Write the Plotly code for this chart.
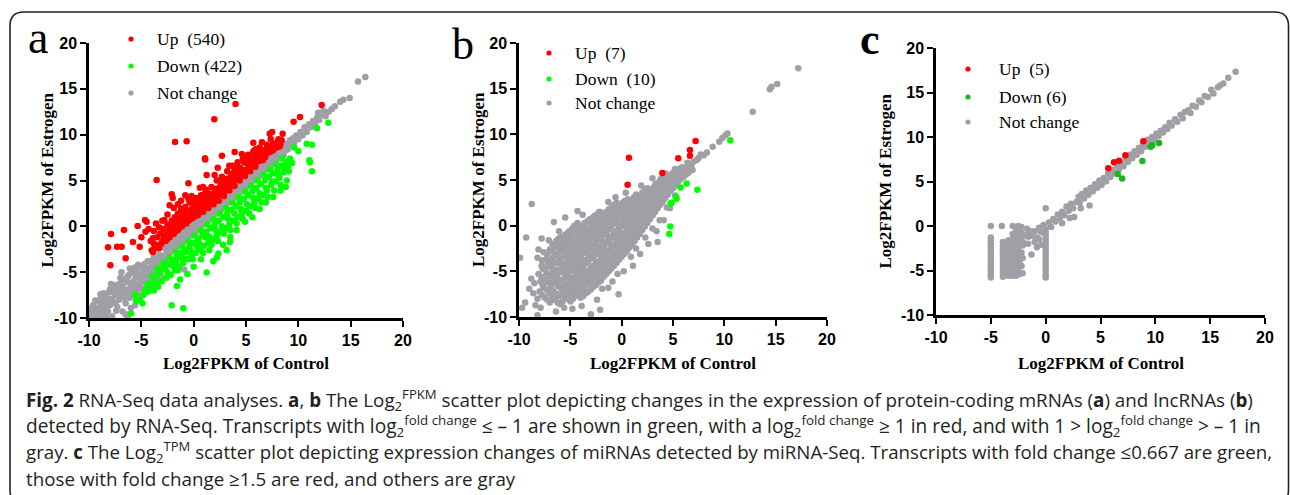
import plotly.graph_objects as go

# ---------------- data ----------------
TICK_VALS = [-10, -5, 0, 5, 10, 15, 20]
TICK_TEXT = ["-10", "-5", "0", "5", "10", "15", "20"]

A_UP = [
    (4.0, 13.35), (1.97, 11.67), (-1.78, 9.2), (-0.67, 9.27), (-3.54, 5.05), (1.08, 7.42), (3.92, 8.11),
    (5.7, 9.13), (6.53, 9.16), (7.26, 10.1), (7.36, 9.53), (9.55, 11.42), (10.16, 11.93), (12.23, 13.24),
    (-7.9, -0.84), (-8.18, -2.29), (-7.32, -2.22), (-6.88, -2.22), (-7.96, -4.25), (-6.66, -0.4), (-5.35, 0.04),
    (-4.65, 0.69), (-4.5, 0.5), (-5.16, -2.22), (-6.5, -3.49), (-5.8, -1.7), (-5.0, -1.2), (-4.6, -0.6),
    (-4.3, -0.3), (-4.1, -1.6), (-3.8, -0.5), (-3.6, 0.3), (-3.3, -0.1), (-3.0, 0.6), (-2.5, 1.3), (-2.3, 2.3),
    (-1.9, 2.0), (-2.0, 3.1), (-1.2, 2.8), (-0.8, 3.4), (-0.2, 3.3), (0.6, 4.2), (-0.5, 4.7), (1.24, 5.6),
    (-2.1, 3.5), (1.1, 7.3), (2.7, 7.7), (2.3, 6.4), (8.4, 9.4), (8.5, 10.1), (7.5, 10.3),
    (-4.0, -2.6), (-3.8, -1.9), (-3.6, -2.4), (-3.5, -1.2), (-3.3, -2.0), (-3.2, -0.8), (-3.0, -1.6), (-2.9, -0.3),
    (-2.8, -1.3), (-2.6, -0.9), (-2.5, 0.2), (-2.4, -1.0), (-2.2, -0.4), (-2.1, 0.6), (-2.0, -0.8), (-1.9, 0.1),
    (-1.8, 1.0), (-1.7, -0.5), (-1.6, 0.4), (-1.5, 1.4), (-1.4, -0.2), (-1.3, 0.8), (-1.2, 1.9), (-1.1, 0.2),
    (-1.0, 1.2), (-0.9, 0.5), (-0.8, 2.1), (-0.7, 0.9), (-0.6, 1.6), (-0.5, 0.6), (-0.4, 2.6), (-0.3, 1.2),
    (-0.2, 1.9), (-0.1, 0.9), (0.0, 2.4), (0.1, 1.4), (0.2, 3.1), (0.3, 1.8), (0.4, 1.2), (0.5, 2.6), (0.6, 1.7),
    (0.7, 3.4), (0.8, 2.1), (0.9, 1.6), (1.0, 2.9), (1.1, 2.2), (1.2, 4.0), (1.3, 2.6), (1.4, 2.0), (1.5, 3.3),
    (1.6, 2.5), (1.7, 4.3), (1.8, 2.9), (1.9, 2.4), (2.0, 3.7), (2.1, 3.0), (2.2, 5.0), (2.3, 3.4), (2.4, 2.8),
    (2.5, 4.3), (2.6, 3.6), (2.7, 5.4), (2.8, 3.9), (2.9, 3.3), (3.0, 4.8), (3.1, 4.0), (3.2, 6.0), (3.3, 4.4),
    (3.4, 3.9), (3.5, 5.3), (3.6, 4.6), (3.7, 6.6), (3.8, 5.0), (3.9, 4.4), (4.0, 5.9), (4.1, 5.1), (4.2, 7.0),
    (4.3, 5.5), (4.4, 5.0), (4.5, 6.3), (4.6, 5.6), (4.7, 7.4), (4.8, 6.1), (4.9, 5.5), (5.0, 6.9), (5.1, 6.2),
    (5.2, 7.8), (5.3, 6.6), (5.4, 6.0), (5.5, 7.3), (5.6, 6.7), (5.7, 8.2), (5.8, 7.0), (5.9, 6.5), (6.0, 7.8),
    (6.2, 7.1), (6.3, 8.6), (6.4, 7.5), (6.6, 7.2), (6.7, 8.3), (6.9, 7.8), (7.0, 8.9), (7.2, 8.1), (7.4, 8.6),
    (7.6, 8.3), (7.8, 8.9), (8.0, 9.2), (8.2, 8.7),
    (-3.9, -2.8), (-3.4, -2.3), (-2.7, -1.6), (-2.3, -1.2), (-1.9, -0.8), (-1.5, -0.4), (-1.1, 0.0), (-0.7, 0.3),
    (-0.3, 0.8), (0.1, 1.1), (0.5, 1.5), (0.9, 1.9), (1.3, 2.3), (1.7, 2.7), (2.1, 3.1), (2.5, 3.5), (2.9, 3.9),
    (3.3, 4.3), (3.7, 4.7), (4.3, 5.4), (4.7, 5.8), (5.1, 6.2), (5.5, 6.6), (6.1, 7.2), (6.5, 7.6), (7.1, 8.2),
    (-3.7, -2.2), (-3.1, -1.9), (-2.9, -1.0), (-2.6, -1.5), (-2.3, -0.2), (-2.0, -0.1), (-1.8, -0.3), (-1.6, 0.9),
    (-1.3, 0.1), (-1.0, 0.4), (-0.9, 1.6), (-0.6, 0.9), (-0.4, 1.4), (-0.1, 1.6), (0.1, 2.3), (0.3, 2.6),
    (0.4, 1.8), (0.6, 2.2), (0.8, 3.0), (1.0, 2.3), (1.2, 3.0), (1.4, 3.6), (1.6, 3.1), (1.8, 3.5), (2.0, 2.9),
    (2.2, 4.1), (2.4, 3.6), (2.6, 4.7), (2.8, 4.4), (3.0, 3.9), (3.2, 5.2), (3.4, 4.8), (3.6, 5.7), (3.8, 4.9),
    (4.0, 6.6), (4.2, 5.8), (4.4, 6.4), (4.6, 5.9), (4.8, 7.0), (5.0, 6.0), (5.2, 6.8), (5.4, 7.4), (5.6, 7.1),
    (5.8, 7.7), (6.1, 8.1), (6.3, 7.3), (6.5, 8.0), (6.8, 7.5), (7.1, 8.6), (7.3, 8.1), (7.6, 9.0), (7.9, 8.6),
    (8.1, 9.5), (8.3, 9.0), (-2.8, 0.7), (-1.5, 2.4), (-0.5, 3.0), (0.9, 4.3), (2.0, 5.6), (3.4, 6.6), (4.6, 7.9),
    (5.9, 8.4), (-3.9, -1.3), (-3.3, -2.4), (-2.4, -0.6), (-1.1, 1.4), (0.2, 2.0), (1.5, 2.7), (2.7, 4.1),
    (3.9, 5.4), (5.3, 7.1), (6.6, 7.9), (-0.2, 2.7), (1.1, 3.6), (2.5, 5.0), (3.9, 6.1), (5.1, 7.6),
]

A_DOWN = [
    (-6.0, -9.5), (-5.5, -8.1), (-5.13, -8.0), (-4.9, -8.4), (-4.6, -6.8), (-4.33, -7.1), (-4.0, -6.1), (-3.8, -7.0),
    (-3.6, -5.5), (-3.4, -6.6), (-3.2, -5.0), (-3.06, -6.0), (-2.8, -4.6), (-2.6, -5.6), (-2.4, -4.1), (-2.2, -5.3),
    (-2.1, -8.6), (-2.0, -3.7), (-1.8, -4.8), (-1.6, -3.3), (-1.4, -4.4), (-1.2, -2.9), (-1.0, -4.0), (-0.99, -8.94),
    (-0.8, -2.6), (-0.6, -3.6), (-0.4, -2.2), (-0.2, -3.3), (0.0, -1.8), (0.2, -2.9), (0.4, -1.4), (0.6, -2.5),
    (0.8, -1.0), (1.0, -2.1), (1.2, -0.6), (1.24, -5.05), (1.4, -1.8), (1.6, -0.2), (1.8, -1.4), (1.88, -3.8),
    (2.0, 0.2), (2.2, -1.0), (2.36, -2.96), (2.4, 0.6), (2.6, -0.6), (2.8, 1.0), (3.0, -0.2), (3.15, -2.58),
    (3.2, 1.4), (3.4, 0.2), (3.47, -1.7), (3.6, 1.8), (3.8, 0.6), (4.0, 2.2), (4.2, 1.0), (4.4, 2.6), (4.6, 1.3),
    (4.8, 3.0), (5.0, 1.7), (5.2, 3.4), (5.4, 2.2), (5.6, 3.8), (5.8, 2.6), (6.0, 4.2), (6.2, 3.0), (6.4, 4.6),
    (6.6, 3.4), (6.8, 5.0), (7.0, 3.9), (7.2, 5.4), (7.4, 4.5), (7.6, 5.8), (7.8, 4.9), (8.0, 6.2), (8.2, 5.3),
    (8.4, 6.6), (8.6, 5.9), (8.8, 7.0), (9.0, 6.4), (9.2, 7.4), (8.9, 5.0), (9.4, 6.9), (9.6, 8.6), (10.8, 9.0),
    (11.3, 8.9), (11.05, 7.2), (11.1, 7.0), (11.3, 6.0), (11.78, 10.69), (12.86, 11.3), (10.0, 8.2),
    (-3.5, -4.6), (-2.9, -4.0), (-2.3, -3.4), (-1.7, -2.8), (-1.1, -2.2), (-0.5, -1.6), (0.1, -1.0), (0.7, -0.4),
    (1.3, 0.2), (1.9, 0.8), (2.5, 1.4), (3.1, 2.0), (3.7, 2.6), (4.3, 3.2), (4.9, 3.8), (5.5, 4.4), (6.1, 5.0),
    (6.7, 5.6), (7.3, 6.2), (7.9, 6.8), (8.5, 7.4),
    (2.2, -3.4), (1.5, -2.6), (0.7, -3.6), (0.0, -4.4), (-0.6, -5.2), (-1.3, -5.8), (-1.6, -6.5), (2.8, -2.0),
    (3.5, -1.2), (4.1, -0.4), (4.9, 0.5), (5.6, 1.0), (6.3, 1.9), (6.9, 2.6), (7.6, 3.2), (8.3, 3.9), (8.8, 4.3),
    (-4.4, -6.3), (-3.9, -5.4), (-3.3, -4.8), (-2.7, -4.4), (-2.5, -5.0), (-2.0, -4.3), (-1.7, -3.9), (-1.5, -4.8),
    (-1.2, -3.4), (-0.9, -3.5), (-0.7, -2.8), (-0.3, -2.7), (-0.1, -3.6), (0.3, -2.2), (0.5, -1.8), (0.9, -2.9),
    (1.1, -1.2), (1.5, -1.1), (1.7, -2.0), (2.1, -0.4), (2.3, -1.6), (2.7, 0.0), (2.9, -0.8), (3.3, 0.8),
    (3.5, -0.4), (3.9, 1.4), (4.1, 0.3), (4.5, 1.9), (4.7, 0.8), (5.1, 2.4), (5.3, 1.4), (5.7, 3.1), (5.9, 2.0),
    (6.3, 3.6), (6.5, 2.6), (6.9, 4.2), (7.1, 3.2), (7.5, 4.9), (7.7, 3.9), (8.1, 5.6), (8.3, 4.5), (8.7, 6.2),
    (9.1, 6.0), (-5.6, -7.5), (-4.8, -7.5), (-4.1, -6.9), (-3.6, -6.3),
]

A_NC = [
    (-10.0, -9.7), (-9.9, -9.0), (-9.7, -9.9), (-9.6, -8.6), (-9.5, -9.4), (-9.3, -8.9), (-9.2, -9.8), (-9.1, -8.2),
    (-9.0, -9.3), (-8.9, -8.7), (-8.8, -7.8), (-8.7, -9.6), (-8.6, -8.4), (-8.5, -9.0), (-8.4, -7.6), (-8.3, -8.1),
    (-8.2, -9.3), (-8.1, -7.2), (-8.0, -8.6), (-7.9, -7.9), (-7.8, -9.8), (-7.7, -6.9), (-7.6, -8.3), (-7.5, -7.5),
    (-7.4, -6.4), (-7.3, -8.8), (-7.2, -7.1), (-7.1, -8.0), (-7.0, -6.2), (-6.9, -7.6), (-6.8, -9.3), (-6.7, -5.8),
    (-6.6, -6.9), (-6.5, -8.4), (-6.4, -7.3), (-6.3, -6.1), (-6.2, -5.3), (-6.1, -7.8), (-6.0, -6.6), (-5.9, -5.0),
    (-5.8, -7.2), (-5.7, -5.9), (-5.6, -8.6), (-5.5, -6.4), (-5.4, -4.9), (-5.3, -7.5), (-5.2, -5.6), (-5.1, -4.4),
    (-5.0, -6.8), (-4.9, -5.2), (-4.8, -6.1), (-4.7, -4.1), (-4.6, -7.2), (-4.5, -5.5), (-4.4, -4.6), (-4.3, -6.4),
    (-4.2, -3.8), (-4.1, -5.0), (-4.0, -5.8), (-3.9, -4.3), (-3.8, -3.4), (-3.7, -6.0), (-3.6, -4.8), (-3.5, -3.9),
    (-3.4, -5.3), (-3.3, -3.1), (-3.2, -4.4), (-3.1, -5.5), (-3.0, -3.6),
    (-9.8, -9.4), (-9.4, -8.1), (-9.0, -8.0), (-8.8, -9.9), (-8.6, -7.3), (-8.2, -8.5), (-8.0, -6.9), (-7.8, -8.0),
    (-7.6, -7.0), (-7.4, -9.2), (-7.2, -6.5), (-7.0, -7.4), (-6.8, -6.5), (-6.6, -7.8), (-6.4, -5.6), (-6.2, -6.9),
    (-6.0, -8.9), (-5.8, -6.3), (-5.6, -5.2), (-5.4, -6.9), (-5.2, -8.1), (-5.0, -5.7), (-4.8, -4.6), (-4.6, -6.0),
    (-4.4, -5.3), (-4.2, -6.9), (-4.0, -4.4), (-3.8, -5.2), (-3.6, -3.4), (-3.4, -4.5), (-3.2, -3.5), (-9.5, -10.0),
    (-8.4, -9.8), (-7.0, -5.6), (-6.5, -9.6), (-6.1, -4.6), (-5.6, -4.5), (-5.0, -7.6), (-4.4, -3.8), (-3.9, -6.6),
    (-7.9, -6.3), (-8.9, -7.4), (-6.9, -5.0), (-5.3, -4.2), (-3.5, -5.9), (-0.9, -4.7), (-6.3, -9.9),
    (-9.1, -9.6), (-8.7, -8.1), (-8.3, -8.8), (-7.9, -7.1), (-7.5, -8.4), (-7.1, -6.8), (-6.7, -7.3), (-6.3, -5.5),
    (-5.9, -7.0), (-5.5, -5.4), (-5.1, -6.2), (-4.7, -5.0), (-4.3, -4.9), (-3.9, -3.7), (-3.5, -4.4),
    (-2.9, -3.2), (-2.8, -2.3), (-2.7, -3.6), (-2.6, -2.6), (-2.5, -1.9), (-2.4, -3.0), (-2.3, -2.2), (-2.2, -2.8),
    (-2.1, -1.5), (-2.0, -2.5), (-1.9, -1.8), (-1.8, -2.6), (-1.7, -1.2), (-1.6, -2.1), (-1.5, -1.5), (-1.4, -2.2),
    (-1.3, -0.9), (-1.2, -1.7), (-1.1, -1.1), (-1.0, -1.8), (-0.9, -0.5), (-0.8, -1.3), (-0.7, -0.7), (-0.6, -1.4),
    (-0.5, -0.1), (-0.4, -0.9), (-0.3, -0.3), (-0.2, -1.0), (-0.1, 0.3), (0.0, -0.5), (0.1, 0.1), (0.2, -0.6),
    (0.3, 0.7), (0.4, -0.1), (0.5, 0.5), (0.6, -0.2), (0.7, 1.1), (0.8, 0.3), (0.9, 0.9), (1.0, 0.2), (1.1, 1.5),
    (1.2, 0.7), (1.3, 1.3), (1.4, 0.6), (1.5, 1.9), (1.6, 1.1), (1.7, 1.7), (1.8, 1.0), (1.9, 2.3), (2.0, 1.5),
    (2.1, 2.1), (2.2, 1.4), (2.3, 2.7), (2.4, 1.9), (2.5, 2.5), (2.6, 1.8), (2.7, 3.1), (2.8, 2.3), (2.9, 2.9),
    (3.0, 2.2), (3.1, 3.5), (3.2, 2.7), (3.3, 3.3), (3.4, 2.6), (3.5, 3.9), (3.6, 3.1), (3.7, 3.7), (3.8, 3.0),
    (3.9, 4.3), (4.0, 3.5), (4.1, 4.1), (4.2, 3.4), (4.3, 4.7), (4.4, 3.9), (4.5, 4.5), (4.6, 3.8), (4.7, 5.1),
    (4.8, 4.3), (4.9, 4.9), (5.0, 4.2), (5.1, 5.5), (5.2, 4.7), (5.3, 5.3), (5.4, 4.6), (5.5, 5.9), (5.6, 5.1),
    (5.7, 5.7), (5.8, 5.0), (5.9, 6.3), (6.0, 5.5), (6.1, 6.1), (6.2, 5.4), (6.3, 6.7), (6.4, 5.9), (6.5, 6.5),
    (6.6, 5.8), (6.7, 7.1), (6.8, 6.3), (6.9, 6.9), (7.0, 6.2), (7.1, 7.5), (7.2, 6.7), (7.3, 7.3), (7.4, 6.6),
    (7.5, 7.9), (7.6, 7.1), (7.7, 7.7), (7.8, 7.0), (7.9, 8.3), (8.0, 7.5), (8.1, 8.1), (8.2, 7.4), (8.3, 8.7),
    (8.4, 7.9), (8.5, 8.5), (8.6, 7.8), (8.7, 9.0), (8.8, 8.3), (8.9, 8.9), (9.0, 8.4), (9.2, 9.4), (9.3, 8.8),
    (9.5, 9.6), (9.6, 9.1), (9.8, 9.9), (10.0, 9.5), (10.2, 10.3), (10.4, 9.9), (10.6, 10.8), (10.8, 10.3),
    (11.0, 11.1), (11.2, 10.8), (11.4, 11.5), (11.6, 11.2), (11.8, 11.9), (12.0, 11.6), (12.3, 12.2), (12.6, 12.0),
    (12.9, 12.5), (13.2, 12.8), (13.5, 13.1), (14.0, 13.6), (14.3, 13.8), (14.9, 14.0), (15.7, 15.8), (16.4, 16.3),
    (11.9, 12.4), (12.4, 12.6),
]

B_UP = [(0.71, 7.44), (0.58, 4.49), (3.96, 5.76), (5.51, 7.37), (6.65, 7.66), (6.65, 8.28), (7.2, 9.27)]

B_DOWN = [(10.58, 9.34), (7.37, 3.94), (6.33, 4.63), (5.74, 4.19), (5.29, 3.17), (5.35, 2.95),
          (4.87, 2.51), (4.77, 2.44), (4.74, -0.08), (4.64, -0.92)]

B_NC = [
    (-8.0, -7.2), (-7.9, -6.1), (-8.1, -5.3), (-7.8, -4.4), (-8.2, -8.0),
    (-7.5, -7.9), (-7.6, -6.8), (-7.4, -5.9), (-7.5, -4.8), (-7.3, -3.6), (-7.6, -2.9),
    (-7.0, -8.4), (-7.1, -7.4), (-6.9, -6.6), (-7.0, -5.5), (-7.2, -4.5), (-6.8, -3.8), (-7.0, -2.6),
    (-6.5, -8.1), (-6.6, -7.2), (-6.4, -6.3), (-6.5, -5.6), (-6.7, -4.9), (-6.3, -4.1), (-6.5, -3.3), (-6.6, -2.4),
    (-6.4, -1.7),
    (-6.0, -8.6), (-6.1, -7.7), (-5.9, -6.9), (-6.0, -6.0), (-6.2, -5.2), (-5.8, -4.5), (-6.0, -3.7), (-6.1, -2.9),
    (-5.9, -2.1), (-6.0, -1.3),
    (-5.5, -8.0), (-5.6, -7.3), (-5.4, -6.5), (-5.5, -5.7), (-5.7, -4.9), (-5.3, -4.1), (-5.5, -3.3), (-5.6, -2.5),
    (-5.4, -1.8), (-5.5, -1.0),
    (-5.0, -8.3), (-5.1, -7.5), (-4.9, -6.8), (-5.0, -6.0), (-5.2, -5.2), (-4.8, -4.5), (-5.0, -3.7), (-5.1, -2.9),
    (-4.9, -2.1), (-5.0, -1.3), (-5.1, -0.6),
    (-4.5, -7.7), (-4.6, -6.9), (-4.4, -6.2), (-4.5, -5.4), (-4.7, -4.6), (-4.3, -3.9), (-4.5, -3.1), (-4.6, -2.3),
    (-4.4, -1.6), (-4.5, -0.8), (-4.6, 0.0),
    (-4.0, -7.9), (-4.1, -7.1), (-3.9, -6.4), (-4.0, -5.6), (-4.2, -4.8), (-3.8, -4.1), (-4.0, -3.3), (-4.1, -2.5),
    (-3.9, -1.8), (-4.0, -1.0), (-4.1, -0.2),
    (-3.5, -7.4), (-3.6, -6.6), (-3.4, -5.9), (-3.5, -5.1), (-3.7, -4.3), (-3.3, -3.6), (-3.5, -2.8), (-3.6, -2.0),
    (-3.4, -1.3), (-3.5, -0.5), (-3.6, 0.3),
    (-3.0, -7.0), (-3.1, -6.2), (-2.9, -5.4), (-3.0, -4.6), (-3.2, -3.8), (-2.8, -3.1), (-3.0, -2.3), (-3.1, -1.5),
    (-2.9, -0.8), (-3.0, 0.0), (-3.1, 0.7),
    (-2.5, -6.5), (-2.6, -5.7), (-2.4, -4.9), (-2.5, -4.1), (-2.7, -3.3), (-2.3, -2.6), (-2.5, -1.8), (-2.6, -1.0),
    (-2.4, -0.3), (-2.5, 0.5), (-2.6, 1.1),
    (-2.0, -6.0), (-2.1, -5.2), (-1.9, -4.4), (-2.0, -3.6), (-2.2, -2.8), (-1.8, -2.1), (-2.0, -1.3), (-2.1, -0.5),
    (-1.9, 0.2), (-2.0, 0.9), (-2.1, 1.5),
    (-1.5, -5.3), (-1.6, -4.5), (-1.4, -3.8), (-1.5, -3.0), (-1.7, -2.2), (-1.3, -1.5), (-1.5, -0.7), (-1.6, 0.1),
    (-1.4, 0.8), (-1.5, 1.5),
    (-1.0, -4.7), (-1.1, -3.9), (-0.9, -3.2), (-1.0, -2.4), (-1.2, -1.6), (-0.8, -0.9), (-1.0, -0.1), (-1.1, 0.7),
    (-0.9, 1.4), (-1.0, 2.0),
    (-0.5, -4.1), (-0.6, -3.3), (-0.4, -2.6), (-0.5, -1.8), (-0.7, -1.0), (-0.3, -0.3), (-0.5, 0.5), (-0.6, 1.2),
    (-0.4, 1.9), (-0.5, 2.5),
    (0.0, -3.4), (-0.1, -2.6), (0.1, -1.9), (0.0, -1.1), (-0.2, -0.3), (0.2, 0.4), (0.0, 1.1), (-0.1, 1.8), (0.1, 2.5),
    (0.5, -2.8), (0.4, -2.0), (0.6, -1.3), (0.5, -0.5), (0.3, 0.3), (0.7, 1.0), (0.5, 1.7), (0.4, 2.3), (0.6, 2.9),
    (1.0, -2.1), (0.9, -1.3), (1.1, -0.6), (1.0, 0.2), (0.8, 0.9), (1.2, 1.6), (1.0, 2.2), (0.9, 2.8),
    (1.5, -1.3), (1.4, -0.5), (1.6, 0.3), (1.5, 1.0), (1.3, 1.7), (1.7, 2.3), (1.5, 2.9), (1.4, 3.4),
    (2.0, -0.5), (1.9, 0.3), (2.1, 1.0), (2.0, 1.7), (1.8, 2.4), (2.2, 3.0), (2.0, 3.6),
    (2.5, 0.3), (2.4, 1.1), (2.6, 1.8), (2.5, 2.5), (2.3, 3.1), (2.7, 3.7), (2.5, 4.1),
    (3.0, 1.1), (2.9, 1.8), (3.1, 2.5), (3.0, 3.1), (2.8, 3.7), (3.2, 4.3),
    (3.5, 1.9), (3.4, 2.6), (3.6, 3.2), (3.5, 3.8), (3.3, 4.4), (3.7, 4.9),
    (4.0, 2.6), (3.9, 3.3), (4.1, 3.9), (4.0, 4.5), (3.8, 5.1), (4.2, 5.5),
    (4.5, 3.4), (4.4, 4.0), (4.6, 4.6), (4.5, 5.2), (4.3, 5.7),
    (5.0, 4.1), (4.9, 4.7), (5.1, 5.3), (5.0, 5.8), (5.2, 6.2),
    (5.5, 4.8), (5.4, 5.4), (5.6, 5.9), (5.7, 6.3),
    (-7.75, -7.6), (-7.7, -6.5), (-7.8, -5.6), (-7.7, -4.7), (-7.75, -3.8),
    (-7.25, -8.1), (-7.3, -7.0), (-7.2, -6.2), (-7.3, -5.2), (-7.2, -4.1), (-7.25, -3.1),
    (-6.75, -7.8), (-6.8, -7.0), (-6.7, -6.1), (-6.75, -5.2), (-6.8, -4.4), (-6.7, -3.5), (-6.8, -2.8), (-6.75, -2.0),
    (-6.25, -8.4), (-6.3, -7.5), (-6.2, -6.6), (-6.25, -5.8), (-6.3, -4.8), (-6.2, -4.0), (-6.3, -3.1), (-6.25, -2.3),
    (-6.2, -1.5),
    (-5.75, -8.3), (-5.8, -7.5), (-5.7, -6.6), (-5.75, -5.9), (-5.8, -5.1), (-5.7, -4.2), (-5.75, -3.5), (-5.8, -2.7),
    (-5.7, -1.9), (-5.75, -1.2),
    (-5.25, -7.8), (-5.3, -7.0), (-5.2, -6.3), (-5.25, -5.5), (-5.3, -4.7), (-5.2, -3.9), (-5.25, -3.1), (-5.3, -2.3),
    (-5.2, -1.5), (-5.25, -0.8),
    (-4.75, -8.0), (-4.8, -7.2), (-4.7, -6.4), (-4.75, -5.7), (-4.8, -4.9), (-4.7, -4.1), (-4.75, -3.4), (-4.8, -2.6),
    (-4.7, -1.8), (-4.75, -1.0), (-4.8, -0.3),
    (-4.25, -7.4), (-4.3, -6.6), (-4.2, -5.9), (-4.25, -5.1), (-4.3, -4.3), (-4.2, -3.5), (-4.25, -2.8), (-4.3, -2.0),
    (-4.2, -1.3), (-4.25, -0.5), (-4.3, 0.3),
    (-3.75, -7.7), (-3.8, -6.9), (-3.7, -6.1), (-3.75, -5.3), (-3.8, -4.6), (-3.7, -3.8), (-3.75, -3.0), (-3.8, -2.3),
    (-3.7, -1.5), (-3.75, -0.8), (-3.8, 0.0),
    (-3.25, -7.2), (-3.3, -6.4), (-3.2, -5.6), (-3.25, -4.9), (-3.3, -4.1), (-3.2, -3.3), (-3.25, -2.6), (-3.3, -1.8),
    (-3.2, -1.0), (-3.25, -0.3), (-3.3, 0.5),
    (-2.75, -6.7), (-2.8, -5.9), (-2.7, -5.1), (-2.75, -4.4), (-2.8, -3.6), (-2.7, -2.8), (-2.75, -2.1), (-2.8, -1.3),
    (-2.7, -0.5), (-2.75, 0.2), (-2.8, 0.9),
    (-2.25, -6.2), (-2.3, -5.4), (-2.2, -4.6), (-2.25, -3.9), (-2.3, -3.1), (-2.2, -2.3), (-2.25, -1.6), (-2.3, -0.8),
    (-2.2, 0.0), (-2.25, 0.7), (-2.3, 1.3),
    (-1.75, -5.6), (-1.8, -4.9), (-1.7, -4.1), (-1.75, -3.3), (-1.8, -2.6), (-1.7, -1.8), (-1.75, -1.0), (-1.8, -0.3),
    (-1.7, 0.5), (-1.75, 1.2),
    (-1.25, -5.0), (-1.3, -4.2), (-1.2, -3.5), (-1.25, -2.7), (-1.3, -1.9), (-1.2, -1.2), (-1.25, -0.4), (-1.3, 0.4),
    (-1.2, 1.1), (-1.25, 1.8),
    (-0.75, -4.4), (-0.8, -3.6), (-0.7, -2.9), (-0.75, -2.1), (-0.8, -1.3), (-0.7, -0.6), (-0.75, 0.2), (-0.8, 0.9),
    (-0.7, 1.6), (-0.75, 2.3),
    (-0.25, -3.7), (-0.3, -3.0), (-0.2, -2.2), (-0.25, -1.4), (-0.3, -0.7), (-0.2, 0.1), (-0.25, 0.8), (-0.3, 1.5),
    (-0.2, 2.2),
    (0.25, -3.1), (0.2, -2.3), (0.3, -1.5), (0.25, -0.8), (0.2, 0.0), (0.3, 0.7), (0.25, 1.4), (0.2, 2.0), (0.3, 2.7),
    (0.75, -2.4), (0.7, -1.6), (0.8, -0.9), (0.75, -0.1), (0.7, 0.6), (0.8, 1.3), (0.75, 2.0), (0.7, 2.6),
    (1.25, -1.7), (1.2, -0.9), (1.3, -0.2), (1.25, 0.6), (1.2, 1.3), (1.3, 1.9), (1.25, 2.5), (1.2, 3.1),
    (1.75, -0.9), (1.7, -0.1), (1.8, 0.6), (1.75, 1.3), (1.7, 2.0), (1.8, 2.7), (1.75, 3.2),
    (2.25, -0.1), (2.2, 0.7), (2.3, 1.4), (2.25, 2.1), (2.2, 2.7), (2.3, 3.3), (2.25, 3.9),
    (2.75, 0.7), (2.7, 1.4), (2.8, 2.1), (2.75, 2.8), (2.7, 3.4), (2.8, 4.0),
    (3.25, 1.5), (3.2, 2.2), (3.3, 2.8), (3.25, 3.5), (3.2, 4.0), (3.3, 4.6),
    (3.75, 2.3), (3.7, 2.9), (3.8, 3.6), (3.75, 4.2), (3.7, 4.7),
    (4.25, 3.0), (4.2, 3.7), (4.3, 4.3), (4.25, 4.9), (4.2, 5.3),
    (4.75, 3.8), (4.7, 4.4), (4.8, 5.0), (4.75, 5.5),
    (5.25, 4.4), (5.2, 5.0), (5.3, 5.6), (5.25, 6.0),
    (5.75, 5.1), (5.8, 5.6), (5.7, 6.1), (6.25, 5.6), (6.2, 6.3), (6.5, 5.8), (6.6, 6.6), (6.4, 6.9),
    (6.0, 5.3), (6.1, 5.9), (5.9, 6.4), (6.3, 6.0), (6.6, 6.2), (6.8, 6.6), (7.0, 7.0), (6.9, 6.1), (7.3, 7.2),
    (7.5, 7.4), (7.7, 7.8), (8.0, 7.7), (8.3, 8.0), (8.86, 8.65), (9.5, 9.2), (9.8, 9.6), (10.1, 9.9), (10.3, 10.1),
    (12.76, 12.48), (14.44, 14.93), (14.6, 15.2), (15.15, 15.5), (17.2, 17.23),
    (-8.76, 2.37), (-9.3, -1.3), (-9.9, -3.5), (-9.7, -9.0), (-8.2, -9.8), (-5.5, 0.9), (-6.6, 0.4), (-8.1, -2.6),
    (-8.2, -3.5), (-8.8, -5.8), (-3.0, -9.7), (-2.1, -9.2), (-0.3, -7.5), (-4.3, 1.6), (-2.2, 1.5), (-7.1, -1.6),
    (-7.8, -1.4), (-9.0, -6.9), (-8.6, -7.4), (-7.9, -9.0), (-6.4, -9.4), (-5.6, -9.0), (-4.8, -9.1), (-3.9, -8.8),
    (-2.4, -8.1), (-1.3, -6.8), (-0.9, -6.1), (0.2, -5.0), (1.1, -4.4), (1.8, -3.1), (2.6, -2.0), (3.4, -0.6),
    (3.5, -1.8), (4.1, 0.6), (4.7, 1.9), (-6.1, -0.6), (-3.8, 1.2), (-1.3, 2.6), (0.4, 3.6), (1.9, 4.4), (3.0, 5.2),
    (-0.6, 3.1), (-9.4, -8.4), (3.7, 0.6), (3.0, -0.3), (2.3, -1.3), (4.4, 2.0), (5.2, 3.3), (1.4, -2.5),
    (-8.5, -6.3), (-8.4, -8.7), (-1.9, -6.9), (-0.4, -5.3), (0.9, -3.4),
]

C_UP = [(5.71, 6.48), (6.23, 7.15), (6.69, 7.34), (7.27, 7.94), (8.91, 9.51)]

C_DOWN = [(6.57, 5.85), (6.97, 5.33), (8.82, 7.3), (9.58, 8.9), (9.73, 9.06), (10.34, 9.33)]

C_NC = [
    (-2.0, -1.9), (-1.6, -1.2), (-1.3, -1.0), (-1.0, -0.6), (-0.8, -1.3), (-0.6, -0.2), (-0.4, -0.7), (-0.2, 0.1),
    (0.0, 1.99), (0.3, 0.4), (0.5, -0.1), (0.7, 0.8), (0.9, 0.5), (1.1, 1.3), (1.3, 0.9), (1.5, 1.6), (1.7, 1.2),
    (1.9, 2.2), (2.1, 1.7), (2.3, 2.5), (2.5, 2.0), (2.6, 1.0), (2.8, 2.7), (3.0, 3.3), (3.1, 2.6), (3.3, 3.6),
    (3.5, 3.1), (3.7, 4.0), (3.9, 3.5), (4.0, 2.3), (4.1, 4.3), (4.3, 3.9), (4.5, 4.7), (4.7, 4.3), (4.9, 5.1),
    (5.1, 4.6), (5.3, 5.4), (5.5, 5.0), (5.7, 5.9), (5.9, 5.5), (6.1, 6.3), (6.3, 5.9), (6.5, 6.8), (6.7, 6.4),
    (6.9, 7.1), (7.1, 6.7), (7.3, 7.6), (7.5, 7.2), (7.7, 8.0), (7.9, 7.6), (8.1, 8.4), (8.3, 8.0), (8.5, 8.8),
    (8.7, 8.4), (8.9, 9.2), (9.1, 8.9), (9.3, 9.7), (9.5, 9.3), (9.7, 10.0), (9.9, 9.7), (10.1, 10.4), (10.3, 10.1),
    (10.5, 10.7), (10.7, 10.5), (10.9, 11.1), (11.1, 10.9), (11.3, 11.6), (11.5, 11.3), (11.8, 12.0), (12.0, 11.7),
    (12.3, 12.5), (12.5, 12.1), (12.7, 12.8), (13.0, 13.0), (13.2, 12.7), (13.4, 13.5), (13.7, 13.4), (14.0, 14.1),
    (14.2, 13.9), (14.5, 14.6), (14.8, 14.5), (15.1, 15.3), (15.3, 14.9), (15.7, 15.6), (15.9, 15.8), (16.2, 16.0),
    (16.65, 16.66), (17.32, 17.34), (1.5, 0.3), (2.2, 0.9), (3.2, 2.0),
    (-5.0, 0.0), (-5.0, -1.3), (-5.0, -1.6), (-5.0, -1.95), (-5.0, -2.2), (-5.0, -2.55), (-5.0, -2.8), (-5.0, -3.1),
    (-5.0, -3.45), (-5.0, -3.7), (-5.0, -4.0), (-5.0, -4.35), (-5.0, -4.6), (-5.0, -4.9), (-5.0, -5.25),
    (-5.0, -5.5), (-5.0, -5.8),
    (-4.0, 0.0), (-3.9, -1.8), (-3.9, -2.2), (-3.9, -2.6), (-3.9, -3.0), (-3.9, -3.3), (-3.9, -3.7), (-3.9, -4.1),
    (-3.9, -4.5), (-3.9, -4.9), (-3.9, -5.3), (-3.9, -5.7),
    (-3.4, -1.6), (-3.4, -2.0), (-3.4, -2.5), (-3.4, -2.9), (-3.4, -3.4), (-3.4, -3.8), (-3.4, -4.3), (-3.4, -4.7),
    (-3.4, -5.2), (-3.4, -5.6),
    (-3.0, 0.0), (-3.0, -0.9), (-3.0, -1.4), (-3.0, -1.9), (-3.0, -2.4), (-3.0, -2.8), (-3.0, -3.3), (-3.0, -3.8),
    (-3.0, -4.2), (-3.0, -4.7), (-3.0, -5.2), (-3.0, -5.6),
    (-2.7, -0.6), (-2.7, -1.2), (-2.7, -2.0), (-2.7, -2.6), (-2.7, -3.1), (-2.7, -3.7), (-2.7, -4.4), (-2.7, -5.0),
    (-2.7, -5.6),
    (-2.5, 0.0), (-2.5, -0.4), (-2.5, -1.0), (-2.4, -1.7), (-2.5, -2.3), (-2.4, -2.9), (-2.5, -3.5), (-2.4, -4.1),
    (-2.5, -4.8), (-2.4, -5.4),
    (-2.2, -0.1), (-2.2, -0.8), (-2.2, -1.5), (-2.1, -2.2), (-2.2, -3.0), (-2.1, -3.6), (-2.2, -4.5), (-2.1, -5.3),
    (-1.7, -0.3), (-1.4, -0.6), (-1.2, -1.1), (-1.6, -2.0), (-1.0, -1.8), (-0.8, -2.4), (-1.3, -3.2), (-0.6, -1.5),
    (-0.4, -2.1), (-1.8, -1.0),
    (0.0, -0.3), (0.0, -0.7), (0.0, -1.1), (0.0, -1.5), (0.0, -1.9), (0.0, -2.3), (0.0, -2.7), (0.0, -3.1),
    (0.0, -3.5), (0.0, -3.9), (0.0, -4.3), (0.0, -4.7), (0.0, -5.1), (0.0, -5.5), (0.0, -5.8),
]

LEGEND_A = ["Up&nbsp;&nbsp;(540)", "Down (422)", "Not change"]
LEGEND_B = ["Up&nbsp;&nbsp;(7)", "Down&nbsp;&nbsp;(10)", "Not change"]
LEGEND_C = ["Up&nbsp;&nbsp;(5)", "Down (6)", "Not change"]

CAPTION = [
    "<b>Fig. 2</b> RNA-Seq data analyses. <b>a</b>, <b>b</b> The Log<sub>2</sub><sup>FPKM</sup> scatter plot depicting "
    "changes in the expression of protein-coding mRNAs (<b>a</b>) and lncRNAs (<b>b</b>)",
    "detected by RNA-Seq. Transcripts with log<sub>2</sub><sup>fold change</sup> ≤ – 1 are shown in green, with a "
    "log<sub>2</sub><sup>fold change</sup> ≥ 1 in red, and with 1 &gt; log<sub>2</sub><sup>fold change</sup> &gt; – 1 in",
    "gray. <b>c</b> The Log<sub>2</sub><sup>TPM</sup> scatter plot depicting expression changes of miRNAs detected by "
    "miRNA-Seq. Transcripts with fold change ≤0.667 are green,",
    "those with fold change ≥1.5 are red, and others are gray",
]
CAPTION_SIZES = [18.8, 19.1, 18.7, 18.8]

# ---------------- styling ----------------
W, H = 1290, 495
RED = "#ff0000"
LIME = "#00ff00"
GREEN_C = "#1db51d"
GRAY = "#a09fa6"
SERIF = "Liberation Serif, Times New Roman, serif"
SANS = "Liberation Sans, Arial, sans-serif"
CAP_FONT = "Open Sans, Lato, sans-serif"


def fx(p):
    return p / W


def fy(p):
    return 1 - p / H


panels = [
    dict(ax="", xd=(89, 403), yd=(318, 43), up=A_UP, down=A_DOWN, nc=A_NC, gc=LIME, leg=LEGEND_A,
         leg_mx=131, leg_tx=155, leg_y=(39, 66, 93), ytx=47, letter="a", lx=38, ly=37, lsize=46, lbold=False),
    dict(ax="2", xd=(519, 827), yd=(317, 43), up=B_UP, down=B_DOWN, nc=B_NC, gc=LIME, leg=LEGEND_B,
         leg_mx=549, leg_tx=573, leg_y=(53, 79, 103), ytx=478, letter="b", lx=463, ly=44, lsize=44, lbold=False),
    dict(ax="3", xd=(936, 1265), yd=(315, 48), up=C_UP, down=C_DOWN, nc=C_NC, gc=GREEN_C, leg=LEGEND_C,
         leg_mx=968, leg_tx=997, leg_y=(69, 97, 122), ytx=885, letter="c", lx=870, ly=40, lsize=44, lbold=True),
]

fig = go.Figure()
annotations = []
shapes = []
layout = {}

for p in panels:
    xa = "x" + p["ax"]
    ya = "y" + p["ax"]
    for pts, col in ((p["nc"], GRAY), (p["up"], RED), (p["down"], p["gc"])):
        fig.add_trace(go.Scatter(
            x=[q[0] for q in pts], y=[q[1] for q in pts], mode="markers", xaxis=xa, yaxis=ya,
            marker=dict(size=6.5, color=col, line=dict(width=0)), cliponaxis=False, showlegend=False,
            hoverinfo="x+y"))
    axis_common = dict(range=[-10, 20], tickmode="array", tickvals=TICK_VALS, ticktext=TICK_TEXT,
                       ticks="outside", ticklen=6, tickwidth=2, tickcolor="black", showline=True,
                       linewidth=2.5, linecolor="black", showgrid=False, zeroline=False, automargin=False,
                       tickfont=dict(family=SANS, size=16, color="black", weight="bold"), fixedrange=True)
    layout["xaxis" + p["ax"]] = dict(axis_common, domain=[fx(p["xd"][0]), fx(p["xd"][1])], anchor=ya)
    layout["yaxis" + p["ax"]] = dict(axis_common, domain=[fy(p["yd"][0]), fy(p["yd"][1])], anchor=xa)

    xc = (p["xd"][0] + p["xd"][1]) / 2
    yc = (p["yd"][0] + p["yd"][1]) / 2
    annotations.append(dict(text="Log2FPKM of Control", x=fx(xc), y=fy(363), xref="paper", yref="paper",
                            showarrow=False, xanchor="center", yanchor="middle",
                            font=dict(family=SERIF, size=17, color="black", weight="bold")))
    annotations.append(dict(text="Log2FPKM of Estrogen", x=fx(p["ytx"]), y=fy(yc), xref="paper", yref="paper",
                            showarrow=False, xanchor="center", yanchor="middle", textangle=-90,
                            font=dict(family=SERIF, size=17, color="black", weight="bold")))
    annotations.append(dict(text=p["letter"], x=fx(p["lx"]), y=fy(p["ly"]), xref="paper", yref="paper",
                            showarrow=False, xanchor="center", yanchor="middle",
                            font=dict(family=SERIF, size=p["lsize"], color="black",
                                      weight="bold" if p["lbold"] else "normal")))
    for label, col, yy in zip(p["leg"], (RED, p["gc"], GRAY), p["leg_y"]):
        r = 2.6
        shapes.append(dict(type="circle", xref="paper", yref="paper",
                           x0=fx(p["leg_mx"] - r), x1=fx(p["leg_mx"] + r),
                           y0=fy(yy + r), y1=fy(yy - r), fillcolor=col, line=dict(width=0)))
        annotations.append(dict(text=label, x=fx(p["leg_tx"]), y=fy(yy), xref="paper", yref="paper",
                                showarrow=False, xanchor="left", yanchor="middle",
                                font=dict(family=SERIF, size=17.5, color="black")))

# caption
for line, yy, sz in zip(CAPTION, (400, 426, 452, 479), CAPTION_SIZES):
    annotations.append(dict(text=line, x=fx(24), y=fy(yy), xref="paper", yref="paper", showarrow=False,
                            xanchor="left", yanchor="middle", align="left",
                            font=dict(family=CAP_FONT, size=sz, color="#231f20")))

# rounded border
x0, x1, y0, y1, r = 10, 1288.5, 12, 504, 14


def P(a, b):
    return f"{fx(a):.6f},{fy(b):.6f}"


path = (f"M {P(x0 + r, y0)} L {P(x1 - r, y0)} Q {P(x1, y0)} {P(x1, y0 + r)} L {P(x1, y1 - r)} "
        f"Q {P(x1, y1)} {P(x1 - r, y1)} L {P(x0 + r, y1)} Q {P(x0, y1)} {P(x0, y1 - r)} "
        f"L {P(x0, y0 + r)} Q {P(x0, y0)} {P(x0 + r, y0)} Z")
shapes.append(dict(type="path", path=path, xref="paper", yref="paper", line=dict(color="#222222", width=1.6)))

fig.update_layout(width=W, height=H, autosize=False,
                  margin=dict(l=0, r=0, t=0, b=0, pad=0, autoexpand=False), paper_bgcolor="white",
                  plot_bgcolor="white", showlegend=False, annotations=annotations, shapes=shapes, **layout)

fig.write_html("out.html", config={"displayModeBar": False},
               post_script="document.body.style.margin='0px';document.body.style.overflow='hidden';")
